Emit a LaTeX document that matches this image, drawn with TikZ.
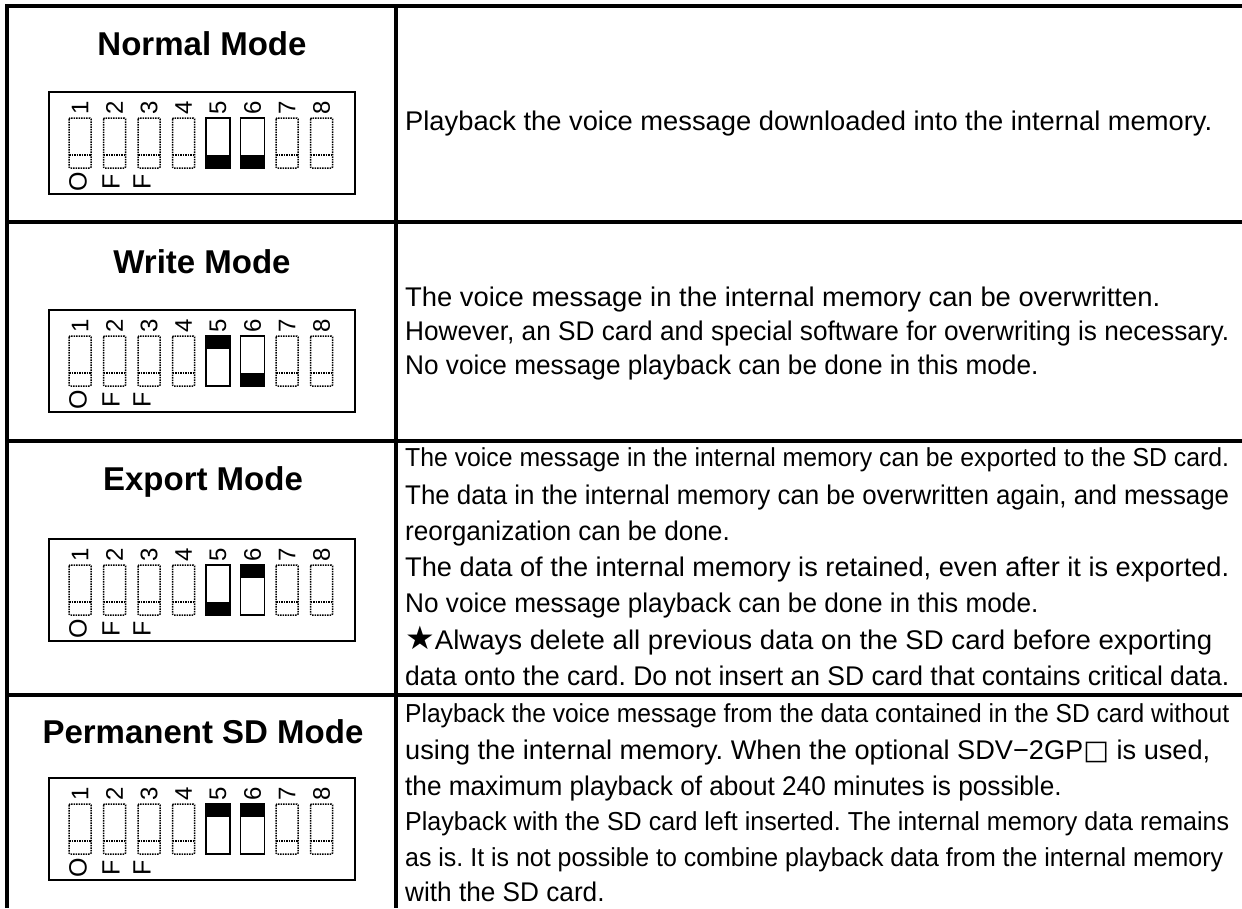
\documentclass[tikz,border=0pt]{standalone}
\usepackage{fontspec}
\setmainfont{Liberation Sans}
\newfontfamily\symfont{DejaVu Sans}
\usepackage{graphicx}
\frenchspacing

% set a line to a given width, keeping its height
\newcommand\fitto[2]{\resizebox{#1pt}{\height}{#2}}
% narrow a line slightly
\newcommand\squeeze[1]{\scalebox{0.97}[1]{#1}}

\tikzset{
  rule/.style={line width=3.5pt},
  modetitle/.style={font=\bfseries\fontsize{33}{40}\selectfont, anchor=base, inner sep=0pt},
  body/.style={font=\fontsize{27}{33}\selectfont, anchor=base west, inner sep=0pt},
  bodysmall/.style={font=\fontsize{26}{31}\selectfont, anchor=base west, inner sep=0pt},
  dipframe/.style={line width=1.6pt},
  swon/.style={line width=1.6pt},
  swoff/.style={line width=1.5pt, densely dotted, rounded corners=1pt},
  digit/.style={font=\fontsize{24}{24}\selectfont, rotate=90, inner sep=0pt},
  offmark/.style={font=\fontsize{25}{25}\selectfont, rotate=90, inner sep=0pt},
}

% DIP switch block: #1 name, #2 top edge, #3/#4 offset of the dark part of switches 5/6
\newcommand\dipblock[4]{%
  \draw[dipframe] (49,#2) rectangle (355,#2+102);
  \foreach \i in {1,...,8}{
    \node[digit] (#1-n\i) at ({80+34.5*(\i-1)},#2+15.5) {\i};
  }
  \foreach \i in {1,2,3,4,7,8}{
    \draw[swoff] ({69+34.5*(\i-1)},#2+26) rectangle ({91+34.5*(\i-1)},#2+76);
    \draw[swoff] ({69+34.5*(\i-1)},#2+63) -- ({91+34.5*(\i-1)},#2+63);
  }
  \foreach \i/\f in {5/#3,6/#4}{
    \draw[swon] ({68+34.5*(\i-1)},#2+26) rectangle ({92+34.5*(\i-1)},#2+76);
    \fill ({68+34.5*(\i-1)},#2+\f) rectangle ++(24,13);
  }
  \node[offmark] (#1-o) at (78,#2+90) {O};
  \node[offmark] (#1-f1) at (111,#2+90) {F};
  \node[offmark] (#1-f2) at (142,#2+90) {F};
}

\begin{document}
\begin{tikzpicture}[x=1pt,y=-1pt]
\useasboundingbox (0,0) rectangle (1242,908);

% table rules
\draw[rule] (7,908) -- (7,6) -- (1242,6);
\draw[rule] (396,6) -- (396,908);
\draw[rule] (7,222) -- (1242,222);
\draw[rule] (7,441) -- (1242,441);
\draw[rule] (7,695) -- (1242,695);

% mode names
\node[modetitle] (normal) at (202,55) {Normal Mode};
\node[modetitle] (write) at (202,273) {Write Mode};
\node[modetitle] (export) at (203,490) {Export Mode};
\node[modetitle] (permanent) at (203,743) {Permanent SD Mode};

% switch settings
\dipblock{dipA}{92}{63}{63}
\dipblock{dipB}{310}{26}{63}
\dipblock{dipC}{539}{63}{26}
\dipblock{dipD}{778}{26}{26}

% descriptions
\node[body] (r1) at (405,130) {\fitto{807}{Playback the voice message downloaded into the internal memory.}};

\node[body] (r2a) at (405,306) {\fitto{755}{The voice message in the internal memory can be overwritten.}};
\node[body] (r2b) at (405,340) {\fitto{824}{However, an SD card and special software for overwriting is necessary.}};
\node[body] (r2c) at (405,374) {\squeeze{No voice message playback can be done in this mode.}};

\node[bodysmall] (r3a) at (405,466) {\fitto{824}{The voice message in the internal memory can be exported to the SD card.}};
\node[body] (r3b) at (405,504) {\fitto{824}{The data in the internal memory can be overwritten again, and message}};
\node[body] (r3c) at (405,540) {\squeeze{reorganization can be done.}};
\node[body] (r3d) at (405,576) {\fitto{824}{The data of the internal memory is retained, even after it is exported.}};
\node[body] (r3e) at (405,612) {\squeeze{No voice message playback can be done in this mode.}};
\node[body] (r3f) at (405,649) {\fitto{807}{{\symfont\scalebox{1.2}{★}}Always delete all previous data on the SD card before exporting}};
\node[body] (r3g) at (405,685) {\fitto{824}{data onto the card. Do not insert an SD card that contains critical data.}};

\node[bodysmall] (r4a) at (405,722) {\fitto{824}{Playback the voice message from the data contained in the SD card without}};
\node[body] (r4b) at (405,759) {\fitto{805}{using the internal memory. When the optional SDV−2GP{\symfont □} is used,}};
\node[body] (r4c) at (405,795) {\squeeze{the maximum playback of about 240 minutes is possible.}};
\node[bodysmall] (r4d) at (405,830) {\fitto{824}{Playback with the SD card left inserted. The internal memory data remains}};
\node[bodysmall] (r4e) at (405,866) {\fitto{818}{as is. It is not possible to combine playback data from the internal memory}};
\node[body] (r4f) at (405,901) {\squeeze{with the SD card.}};
\end{tikzpicture}
\end{document}
